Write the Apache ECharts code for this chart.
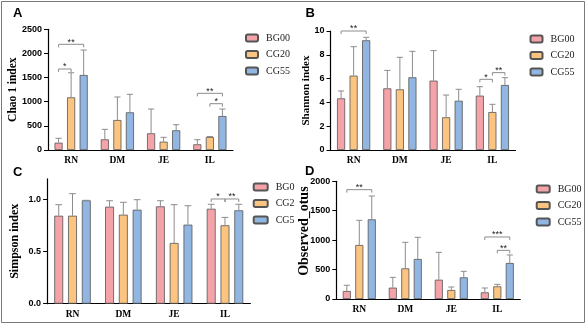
<!DOCTYPE html>
<html><head><meta charset="utf-8">
<script src="https://cdn.jsdelivr.net/npm/echarts@6/dist/echarts.min.js"></script>
<style>html,body{margin:0;padding:0;background:#fff}#c{width:586px;height:326px}</style>
</head><body><div id="c"></div>
<script>
const categories = ['RN', 'DM', 'JE', 'IL'];
const groups = ['BG00', 'CG20', 'CG55'];

// mean values per group (BG00, CG20, CG55) across categories
const chaoMean = [[151, 221, 346, 118], [1091, 621, 172, 269], [1553, 781, 408, 704]];
const chaoTop  = [[242, 428, 849, 213], [1600, 1098, 263, 280], [2071, 1153, 524, 849]];

const shannonMean = [[4.34, 5.18, 5.83, 4.57], [6.25, 5.10, 2.75, 3.19], [9.22, 6.11, 4.14, 5.46]];
const shannonTop  = [[4.96, 6.69, 8.35, 5.32], [8.68, 7.79, 4.62, 3.84], [9.47, 8.29, 5.10, 6.08]];

const simpsonMean = [[0.846, 0.933, 0.936, 0.913], [0.846, 0.856, 0.584, 0.754], [0.994, 0.904, 0.760, 0.898]];
const simpsonTop  = [[0.952, 0.990, 0.990, 0.956], [1.058, 0.975, 0.952, 0.830], [0.994, 1.000, 0.942, 0.956]];

const otusMean = [[136, 193, 328, 113], [918, 521, 153, 215], [1354, 680, 368, 612]];
const otusTop  = [[233, 368, 793, 187], [1337, 963, 204, 249], [1750, 1048, 470, 748]];

// significance brackets: [category, groupFrom, groupTo, level, label]
const chaoSig = [[0, 0, 1, 1678, '*'], [0, 0, 2, 2189, '**'], [3, 0, 2, 1174, '**'], [3, 1, 2, 959, '*']];
const shannonSig = [[0, 0, 2, 10.0, '**'], [3, 0, 1, 5.94, '*'], [3, 1, 2, 6.5, '**']];
const simpsonSig = [[3, 0, 1, 1.007, '*'], [3, 1, 2, 1.007, '**']];
const otusSig = [[0, 0, 2, 1858, '**'], [3, 0, 2, 1054, '***'], [3, 1, 2, 827, '**']];

const simpsonTicks = [0, 0.5, 1.0];

const colors = ['#F4A3A9', '#FBC480', '#92B6E2'];
const BW = 0.175, GAP = 0.55;
const SERIF = 'Liberation Serif', SANS = 'Liberation Sans';

function barCenter(api, i, j) {
  const band = api.size([1, 0])[0];
  const w = band * BW, g = w * GAP, total = 3 * w + 2 * g;
  return { cx: api.coord([i, 0])[0] - total / 2 + w / 2 + j * (w + g), w: w };
}

function errSeries(k, means, tops) {
  const data = [];
  for (let j = 0; j < 3; j++) for (let i = 0; i < 4; i++) data.push([i, j, means[j][i], tops[j][i]]);
  return {
    type: 'custom', xAxisIndex: k, yAxisIndex: k, data: data, z: 3, silent: true,
    encode: { x: 0, y: [2, 3] },
    renderItem: function (params, api) {
      const i = api.value(0), j = api.value(1);
      const b = barCenter(api, i, j);
      const y1 = api.coord([i, api.value(2)])[1];
      const y2 = api.coord([i, api.value(3)])[1];
      const cap = b.w * 0.38;
      return { type: 'group', children: [
        { type: 'line', shape: { x1: b.cx, y1: y1, x2: b.cx, y2: y2 }, style: { stroke: '#8c8c8c', lineWidth: 1 } },
        { type: 'line', shape: { x1: b.cx - cap, y1: y2, x2: b.cx + cap, y2: y2 }, style: { stroke: '#8c8c8c', lineWidth: 1 } }
      ] };
    }
  };
}

function sigSeries(k, sig) {
  return {
    type: 'custom', xAxisIndex: k, yAxisIndex: k, silent: true, z: 4,
    data: sig.map(s => [s[0], s[1], s[2], s[3]]),
    encode: { x: 0, y: 3 },
    renderItem: function (params, api) {
      const s = sig[params.dataIndex];
      const a = barCenter(api, s[0], s[1]).cx, b = barCenter(api, s[0], s[2]).cx;
      const y = api.coord([s[0], s[3]])[1];
      return { type: 'group', children: [
        { type: 'polyline', shape: { points: [[a, y + 3], [a, y], [b, y], [b, y + 3]] }, style: { stroke: '#8c8c8c', lineWidth: 1, fill: null } },
        { type: 'text', style: { text: s[4], x: (a + b) / 2, y: y - 2, align: 'center', verticalAlign: 'middle', fontSize: 9, fontFamily: SANS, fill: '#222' } }
      ] };
    }
  };
}

function barSeries(k, means) {
  return groups.map((g, j) => ({
    type: 'bar', name: g, xAxisIndex: k, yAxisIndex: k, data: means[j],
    barWidth: (BW * 100) + '%', barGap: (GAP * 100) + '%', silent: true,
    itemStyle: { color: colors[j], borderColor: '#555', borderWidth: 0.8 }
  }));
}

const grids = [
  { left: 48, top: 29.3, width: 185, height: 120.7 },
  { left: 330.5, top: 31, width: 185, height: 119 },
  { left: 47.1, top: 178.9, width: 203.3, height: 124.8 },
  { left: 336.3, top: 181.3, width: 184, height: 117.7 }
];

function xAx(k) {
  return {
    type: 'category', gridIndex: k, data: categories,
    axisLine: { lineStyle: { color: '#000', width: 1.2 } },
    axisTick: { alignWithLabel: true, length: 4, lineStyle: { color: '#000', width: 1 } },
    axisLabel: { fontFamily: SERIF, fontWeight: 'bold', fontSize: 9.5, color: '#000', margin: 6 }
  };
}
function yAx(k, name, nameGap, nameSize, extra, namePad) {
  return Object.assign({
    type: 'value', gridIndex: k, min: 0,
    axisLine: { show: true, lineStyle: { color: '#000', width: 1.2 } },
    axisTick: { show: true, length: 4, lineStyle: { color: '#000', width: 1 } },
    splitLine: { show: false },
    axisLabel: { fontFamily: SANS, fontWeight: 'bold', fontSize: 9, color: '#000', margin: 6, formatter: v => String(v) },
    name: name, nameLocation: 'middle', nameGap: nameGap, nameMoveOverlap: false,
    nameTextStyle: { fontFamily: SERIF, fontWeight: 'bold', fontSize: nameSize, color: '#000', padding: namePad || 0 }
  }, extra);
}

function legend(left, top, w, fmt) {
  return {
    orient: 'vertical', left: left, top: top, itemWidth: w, itemHeight: 7, itemGap: 4.5,
    data: groups, selectedMode: false, padding: 0,
    formatter: fmt || (n => n),
    textStyle: { fontFamily: SERIF, fontSize: 10, color: '#222', lineHeight: 12, padding: [0, 0, 0, 3] }
  };
}

const titleStyle = { fontFamily: SANS, fontWeight: 'bold', fontSize: 13, color: '#000' };

const option = {
  animation: false,
  backgroundColor: '#fff',
  title: [
    { text: 'A', left: 13, top: 7, padding: 0, textStyle: titleStyle },
    { text: 'B', left: 305.5, top: 7, padding: 0, textStyle: titleStyle },
    { text: 'C', left: 13, top: 166, padding: 0, textStyle: titleStyle },
    { text: 'D', left: 305, top: 165, padding: 0, textStyle: titleStyle }
  ],
  grid: grids,
  xAxis: [xAx(0), xAx(1), xAx(2), xAx(3)],
  yAxis: [
    yAx(0, 'Chao 1 index', 29, 11.5, { max: 2500, interval: 500 }),
    yAx(1, 'Shannon index', 19.3, 11, { max: 10, interval: 2 }),
    yAx(2, 'Simpson index', 26.1, 12, {
      max: 1.2,
      axisTick: { show: true, length: 4, lineStyle: { color: '#000', width: 1 }, customValues: simpsonTicks },
      axisLabel: { fontFamily: SANS, fontWeight: 'bold', fontSize: 9, color: '#000', margin: 6, customValues: simpsonTicks, formatter: v => v.toFixed(1) }
    }),
    yAx(3, 'Observed_otus', 24.6, 14, { max: 2000, interval: 500 }, [0, 0, 0, 18])
  ],
  legend: [
    legend(245, 32, 12),
    legend(529.5, 33, 12),
    legend(252.7, 181, 14, n => n.slice(0, 3)),
    legend(535.7, 183, 13)
  ],
  graphic: [
    { type: 'rect', shape: { x: 1.5, y: 1.5, width: 583, height: 321 }, style: { fill: null, stroke: '#7a7a7a', lineWidth: 1 }, silent: true }
  ],
  series: [].concat(
    barSeries(0, chaoMean), [errSeries(0, chaoMean, chaoTop), sigSeries(0, chaoSig)],
    barSeries(1, shannonMean), [errSeries(1, shannonMean, shannonTop), sigSeries(1, shannonSig)],
    barSeries(2, simpsonMean), [errSeries(2, simpsonMean, simpsonTop), sigSeries(2, simpsonSig)],
    barSeries(3, otusMean), [errSeries(3, otusMean, otusTop), sigSeries(3, otusSig)]
  )
};

const chart = echarts.init(document.getElementById('c'), null, { renderer: 'canvas' });
chart.setOption(option);
</script>
</body></html>
